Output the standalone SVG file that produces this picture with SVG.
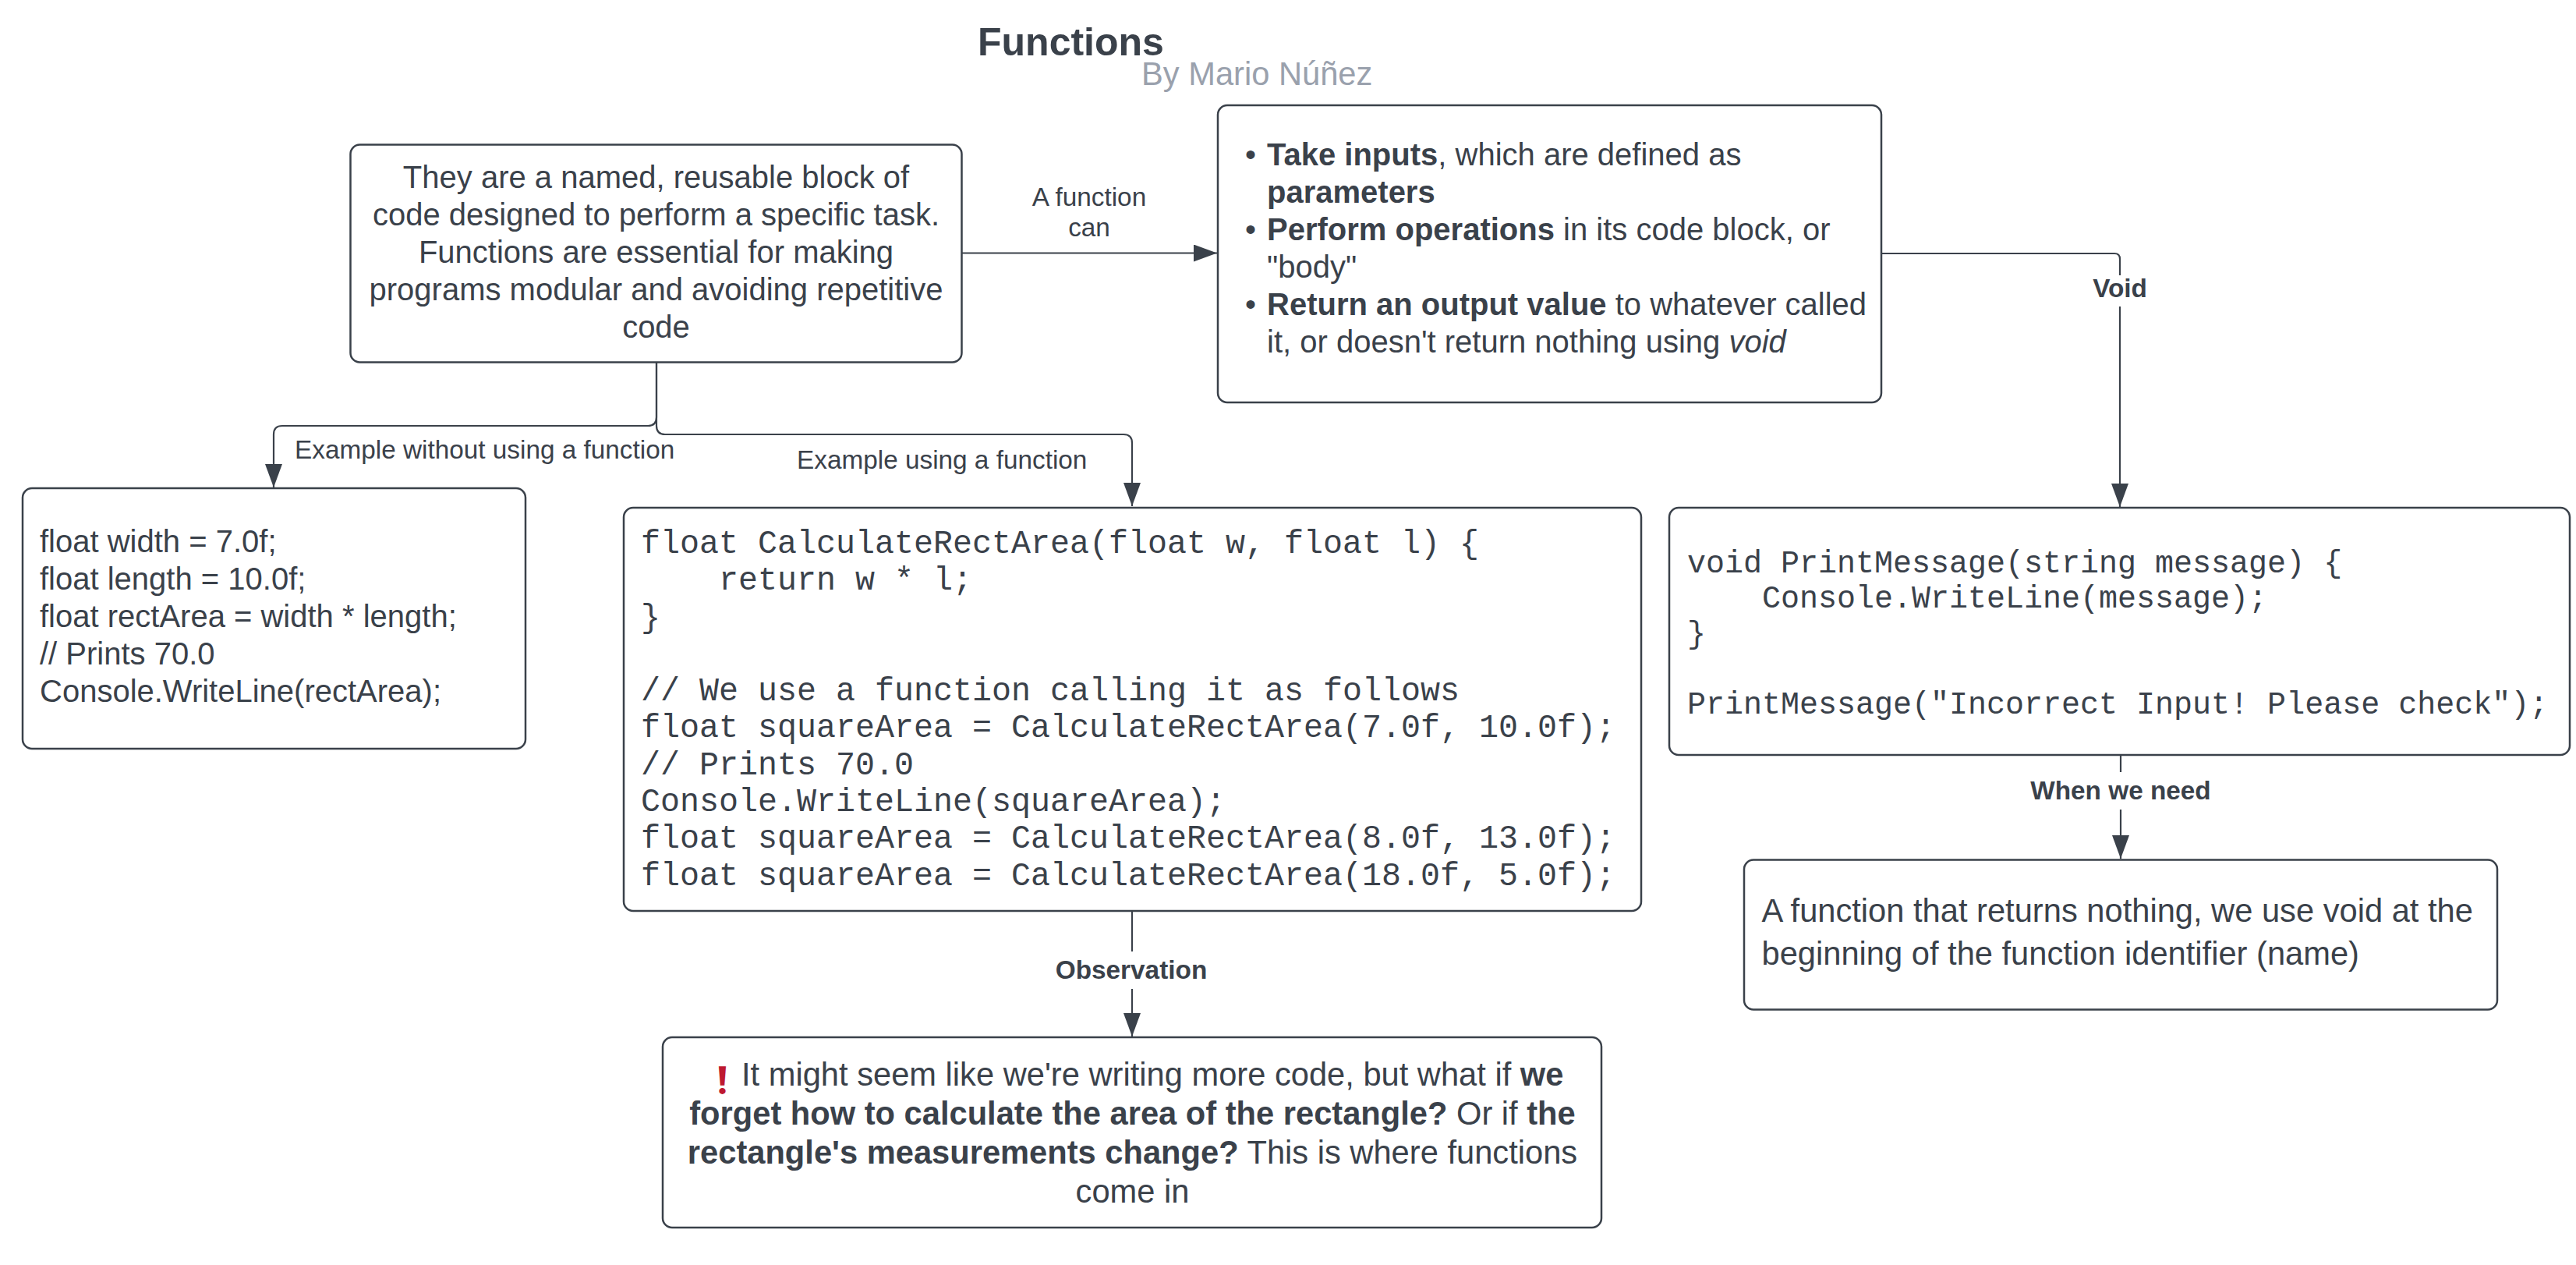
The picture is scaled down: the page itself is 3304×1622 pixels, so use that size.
<svg xmlns="http://www.w3.org/2000/svg" width="3304" height="1622" viewBox="0 0 3304 1622">
<style>
text{font-family:"Liberation Sans",Arial,sans-serif;font-size:41.67px;fill:#3a414a;white-space:pre}
.s{font-size:40px}
.m{font-family:"Liberation Mono","Courier New",monospace}
.c{text-anchor:middle}
.l{font-size:33.33px}
.b{font-weight:700}
.box{fill:#fff;stroke:#3a414a;stroke-width:2.5}
.wire{fill:none;stroke:#3a414a;stroke-width:2.2}
.lb{fill:#fff}
</style>
<defs><marker id="a" markerUnits="userSpaceOnUse" markerWidth="32" markerHeight="24" refX="30" refY="11" orient="auto"><path d="M0 0L30 11L0 22Z" fill="#3a414a"/></marker></defs>
<rect width="3304" height="1622" fill="#fff"/>
<g id="title"><text x="1254" y="71" class="b" style="font-size:50px">Functions</text><text x="1464" y="109" style="fill:#9aa1ad">By Mario Núñez</text></g>
<g id="connectors">
<path class="wire" marker-end="url(#a)" d="M1233 324.5H1561"/>
<path class="wire" marker-end="url(#a)" d="M2413 325H2712Q2719 325 2719 332V650"/>
<path class="wire" marker-end="url(#a)" d="M842 464V535Q842 546 831 546H362Q351 546 351 557V625"/>
<path class="wire" marker-end="url(#a)" d="M842 464V546Q842 557 853 557H1441Q1452 557 1452 568V649"/>
<path class="wire" marker-end="url(#a)" d="M1452 1167V1329"/>
<path class="wire" marker-end="url(#a)" d="M2720 967V1101"/>
<rect class="lb" x="2680" y="353" width="80" height="40"/><rect class="lb" x="1340" y="1220" width="224" height="48"/><rect class="lb" x="2590" y="990" width="260" height="48"/>
<text class="l c" x="1397" y="264">A function</text><text class="l c" x="1397" y="303">can</text>
<text class="l c b" x="2719" y="381">Void</text>
<text class="l" x="378" y="588">Example without using a function</text>
<text class="l" x="1022" y="601">Example using a function</text>
<text class="l c b" x="1451" y="1255">Observation</text>
<text class="l c b" x="2720" y="1025">When we need</text>
</g>
<g id="n-definition"><rect class="box" x="449.5" y="185.5" width="784" height="279" rx="12"/>
<text class="c s" x="841.5" y="241">They are a named, reusable block of</text>
<text class="c s" x="841.5" y="289">code designed to perform a specific task.</text>
<text class="c s" x="841.5" y="337">Functions are essential for making</text>
<text class="c s" x="841.5" y="385">programs modular and avoiding repetitive</text>
<text class="c s" x="841.5" y="433">code</text></g>
<g id="n-can"><rect class="box" x="1562" y="135" width="851" height="381" rx="12"/>
<text class="s" x="1597" y="212">•</text><text class="s" x="1625" y="212"><tspan class="b">Take inputs</tspan>, which are defined as</text>
<text class="s b" x="1625" y="260">parameters</text>
<text class="s" x="1597" y="308">•</text><text class="s" x="1625" y="308"><tspan class="b">Perform operations</tspan> in its code block, or</text>
<text class="s" x="1625" y="356">"body"</text>
<text class="s" x="1597" y="404">•</text><text class="s" x="1625" y="404"><tspan class="b">Return an output value</tspan> to whatever called</text>
<text class="s" x="1625" y="452">it, or doesn't return nothing using <tspan font-style="italic">void</tspan></text></g>
<g id="n-without"><rect class="box" x="29" y="626" width="645" height="334" rx="12"/>
<text class="s" x="51" y="708">float width = 7.0f;</text>
<text class="s" x="51" y="756">float length = 10.0f;</text>
<text class="s" x="51" y="804">float rectArea = width * length;</text>
<text class="s" x="51" y="852">// Prints 70.0</text>
<text class="s" x="51" y="900">Console.WriteLine(rectArea);</text></g>
<g id="n-with"><rect class="box" x="800" y="651" width="1305" height="517" rx="12"/>
<text class="m" x="822" y="708.5">float CalculateRectArea(float w, float l) {</text>
<text class="m" x="822" y="756">    return w * l;</text>
<text class="m" x="822" y="803.5">}</text>
<text class="m" x="822" y="897.5">// We use a function calling it as follows</text>
<text class="m" x="822" y="945">float squareArea = CalculateRectArea(7.0f, 10.0f);</text>
<text class="m" x="822" y="992.5">// Prints 70.0</text>
<text class="m" x="822" y="1040">Console.WriteLine(squareArea);</text>
<text class="m" x="822" y="1087">float squareArea = CalculateRectArea(8.0f, 13.0f);</text>
<text class="m" x="822" y="1134.5">float squareArea = CalculateRectArea(18.0f, 5.0f);</text></g>
<g id="n-void"><rect class="box" x="2141" y="651" width="1155" height="317" rx="12"/>
<text class="m s" x="2164" y="733.5">void PrintMessage(string message) {</text>
<text class="m s" x="2164" y="778.5">    Console.WriteLine(message);</text>
<text class="m s" x="2164" y="824.5">}</text>
<text class="m s" x="2164" y="914.5">PrintMessage("Incorrect Input! Please check");</text></g>
<g id="n-nothing"><rect class="box" x="2237" y="1102.5" width="966" height="192" rx="12"/>
<text x="2259.5" y="1182">A function that returns nothing, we use void at the</text>
<text x="2259.5" y="1236.5">beginning of the function identifier (name)</text></g>
<g id="n-observation"><rect class="box" x="850" y="1330" width="1204" height="244" rx="12"/>
<text x="920" y="1392"><tspan dy="10" style="font-family:'DejaVu Sans',sans-serif;font-size:48px;fill:#be1931">❗&#xFE0E;</tspan><tspan x="951" dy="-10">It might seem like we're writing more code, but what if </tspan><tspan class="b">we</tspan></text>
<text class="c" x="1452.5" y="1442"><tspan class="b">forget how to calculate the area of the rectangle?</tspan> Or if <tspan class="b">the</tspan></text>
<text class="c" x="1452.5" y="1491.5"><tspan class="b">rectangle's measurements change?</tspan> This is where functions</text>
<text class="c" x="1452.5" y="1541.5">come in</text></g>
</svg>
